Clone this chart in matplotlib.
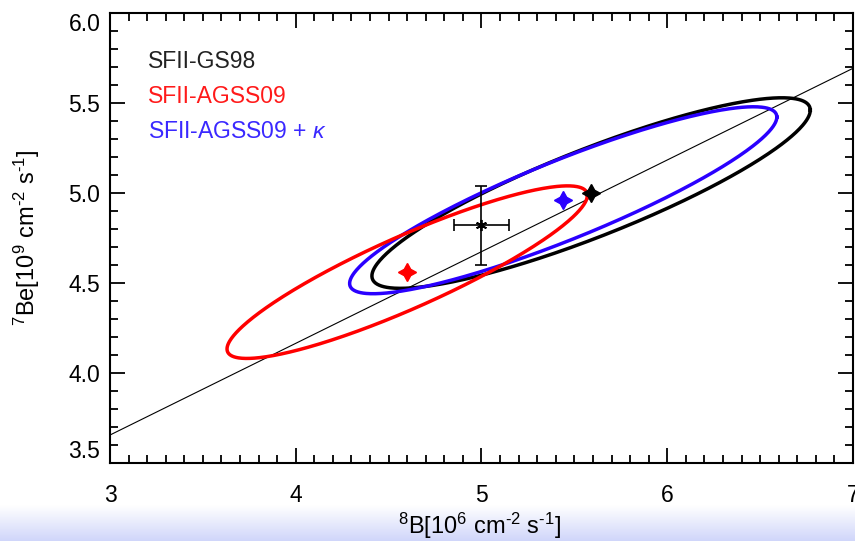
import numpy as np
import matplotlib
matplotlib.use("Agg")
import matplotlib.pyplot as plt
from matplotlib.colors import LinearSegmentedColormap

plt.rcParams['font.family'] = ['Liberation Sans', 'DejaVu Sans']
plt.rcParams['mathtext.fontset'] = 'custom'
plt.rcParams['mathtext.rm'] = 'Liberation Sans'
plt.rcParams['mathtext.it'] = 'Liberation Sans:italic'
plt.rcParams['mathtext.bf'] = 'Liberation Sans:bold'

# Solar model predictions (8B, 7Be fluxes) and their correlated uncertainty ellipses
models = ['SFII-GS98', 'SFII-AGSS09', 'SFII-AGSS09 + $\\kappa$']
b8_model = [5.59, 4.60, 5.44]
be7_model = [5.00, 4.56, 4.96]
b8_halfwidth = [1.18, 0.97, 1.15]
be7_halfwidth = [0.53, 0.48, 0.52]
correlation = [0.87, 0.89, 0.89]
colors = ['black', '#ff0000', '#2a00ff']
text_colors = ['#222222', '#ff1a1a', '#3a28ff']

# Measured fluxes
b8_obs, b8_err = 5.00, 0.15
be7_obs, be7_err = 4.82, 0.22

# Reference line
line_b8 = [3.0, 7.0]
line_be7 = [3.654, 5.694]

W, H = 855, 541
fig = plt.figure(figsize=(W / 100, H / 100), dpi=100)

# Soft blue band along the bottom of the figure
band = fig.add_axes([0, 0, 1, 36 / H], zorder=-1)
grad = np.linspace(0, 1, 64).reshape(-1, 1)
cmap = LinearSegmentedColormap.from_list('band', ['#ffffff', '#d0d6fa'])
band.imshow(grad, aspect='auto', cmap=cmap, origin='upper', extent=[0, 1, 0, 1])
band.set_axis_off()

left, right = 110 / W, 853 / W
bottom, top = 1 - 462.7 / H, 1 - 13.3 / H
ax = fig.add_axes([left, bottom, right - left, top - bottom])
ax.set_xlim(3, 7)
ax.set_ylim(3.5, 6.0)

ax.plot(line_b8, line_be7, color='black', lw=0.8, zorder=2)

t = np.linspace(0, 2 * np.pi, 500)
order = [0, 2, 1]
for i in order:
    x = b8_model[i] + b8_halfwidth[i] * np.cos(t)
    y = be7_model[i] + be7_halfwidth[i] * (correlation[i] * np.cos(t)
                                           + np.sqrt(1 - correlation[i] ** 2) * np.sin(t))
    ax.plot(x, y, color=colors[i], lw=2.5, zorder=3)

for i in range(3):
    ax.plot(b8_model[i], be7_model[i], marker=(4, 1, 0), ms=13, color=colors[i],
            mec=colors[i], ls='none', zorder=4)

ax.errorbar(b8_obs, be7_obs, xerr=b8_err, yerr=be7_err, fmt='none', ecolor='black',
            elinewidth=1.2, capsize=4, capthick=1.2, zorder=4)
ax.plot(b8_obs, be7_obs, marker=(6, 2, 0), ms=8, color='black', mew=1.3, zorder=5)

ys = [0.8776, 0.800, 0.722]
for i in range(3):
    ax.text(0.051, ys[i], models[i], transform=ax.transAxes, color=text_colors[i],
            fontsize=16.5, va='baseline', ha='left')

ax.set_xticks([3, 4, 5, 6, 7])
ax.set_xticklabels(['3', '4', '5', '6', '7'])
ax.set_yticks([3.5, 4.0, 4.5, 5.0, 5.5, 6.0])
ax.set_yticklabels(['3.5', '4.0', '4.5', '5.0', '5.5', '6.0'])
ax.set_xticks(np.arange(3, 7.001, 0.1), minor=True)
ax.set_yticks(np.arange(3.5, 6.001, 0.1), minor=True)
ax.tick_params(which='both', direction='in', top=True, right=True, width=1.3,
               colors='black', labelsize=16.5)
ax.tick_params(which='major', length=11)
ax.tick_params(which='minor', length=5.8)
ax.tick_params(axis='x', pad=15)
ax.tick_params(axis='y', pad=7)
for s in ax.spines.values():
    s.set_linewidth(1.5)

ylabels = ax.get_yticklabels()
ylabels[0].set_va('bottom')
ylabels[-1].set_va('top')

ax.set_xlabel('$^{8}$B[10$^{6}$ cm$^{\\text{-}2}$ s$^{\\text{-}1}$]', fontsize=17)
ax.xaxis.set_label_coords(0.4975, (462.7 - 526) / 449.4)
ax.xaxis.label.set_va('center')
ax.set_ylabel('$^{7}$Be[10$^{9}$ cm$^{\\text{-}2}$ s$^{\\text{-}1}$]', fontsize=17)
ax.yaxis.set_label_coords((27 - 110) / 743, 0.5)
ax.yaxis.label.set_va('center')

fig.savefig('out.png', dpi=100)
